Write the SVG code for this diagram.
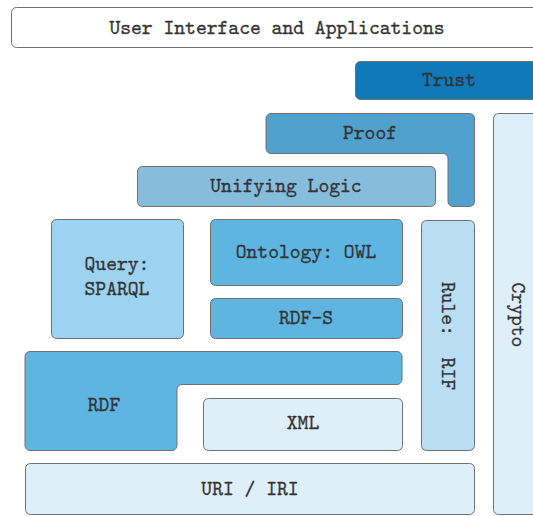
<svg xmlns="http://www.w3.org/2000/svg" width="533" height="516" viewBox="0 0 533 516">
  <style>
    .box { stroke: #6f6f6f; stroke-width: 1; }
    .lbl { font-family: "Latin Modern Mono", "Liberation Mono", monospace; font-size: 20.6px; fill: #333333; stroke: #333333; stroke-width: 0.3; text-anchor: middle; }
    .c-white { fill: #ffffff; }
    .c-trust { fill: #1079b9; }
    .c-proof { fill: #50a1cd; }
    .c-logic { fill: #86bddd; }
    .c-query { fill: #9dd2f2; }
    .c-mid { fill: #5fb5e2; }
    .c-rule { fill: #b9def4; }
    .c-pale { fill: #dfeffa; }
  </style>
  <rect width="533" height="516" fill="#ffffff"/>

  <g id="ui">
    <rect class="box c-white" x="11.5" y="7.5" width="540" height="40" rx="5"/>
    <text class="lbl" x="277" y="33.5">User Interface and Applications</text>
  </g>

  <g id="trust">
    <rect class="box c-trust" x="355.5" y="61.5" width="190" height="38" rx="5"/>
    <text class="lbl" x="449" y="86">Trust</text>
  </g>

  <g id="proof">
    <path class="box c-proof" d="M271,113.5 H469.5 A5,5 0 0 1 474.5,118.5 V201.5 A5,5 0 0 1 469.5,206.5 H453 A5,5 0 0 1 448,201.5 V158.5 A5,5 0 0 0 443,153.5 H271 A5,5 0 0 1 266,148.5 V118.5 A5,5 0 0 1 271,113.5 Z"/>
    <text class="lbl" x="370" y="139">Proof</text>
  </g>

  <g id="crypto">
    <rect class="box c-pale" x="493.5" y="113.5" width="60" height="401" rx="5"/>
    <text class="lbl" transform="translate(518,315) rotate(90)" x="0" y="6">Crypto</text>
  </g>

  <g id="unifying-logic">
    <rect class="box c-logic" x="137.5" y="166.5" width="298" height="40" rx="5"/>
    <text class="lbl" x="286" y="192">Unifying Logic</text>
  </g>

  <g id="query">
    <rect class="box c-query" x="51.5" y="219.5" width="132" height="119" rx="5"/>
    <text class="lbl" x="117" y="269.5">Query:</text>
    <text class="lbl" x="117" y="295">SPARQL</text>
  </g>

  <g id="ontology">
    <rect class="box c-mid" x="210.5" y="219.5" width="192" height="66" rx="5"/>
    <text class="lbl" x="306" y="258">Ontology: OWL</text>
  </g>

  <g id="rdfs">
    <rect class="box c-mid" x="210.5" y="298.5" width="192" height="40" rx="5"/>
    <text class="lbl" x="306" y="324">RDF-S</text>
  </g>

  <g id="rule">
    <rect class="box c-rule" x="421.5" y="220.5" width="53" height="230" rx="5"/>
    <text class="lbl" xml:space="preserve" transform="translate(448,336) rotate(90)" x="0" y="6">Rule:  RIF</text>
  </g>

  <g id="rdf">
    <path class="box c-mid" d="M30,351.5 H397 A5,5 0 0 1 402,356.5 V379.5 A5,5 0 0 1 397,384.5 H182 A5,5 0 0 0 177,389.5 V445.5 A5,5 0 0 1 172,450.5 H30 A5,5 0 0 1 25,445.5 V356.5 A5,5 0 0 1 30,351.5 Z"/>
    <text class="lbl" x="104" y="411">RDF</text>
  </g>

  <g id="xml">
    <rect class="box c-pale" x="203.5" y="398.5" width="199" height="52" rx="5"/>
    <text class="lbl" x="303" y="429">XML</text>
  </g>

  <g id="uri">
    <rect class="box c-pale" x="25.5" y="463.5" width="449" height="51" rx="5"/>
    <text class="lbl" x="250" y="495">URI / IRI</text>
  </g>

  <g id="connectors"></g>
</svg>
